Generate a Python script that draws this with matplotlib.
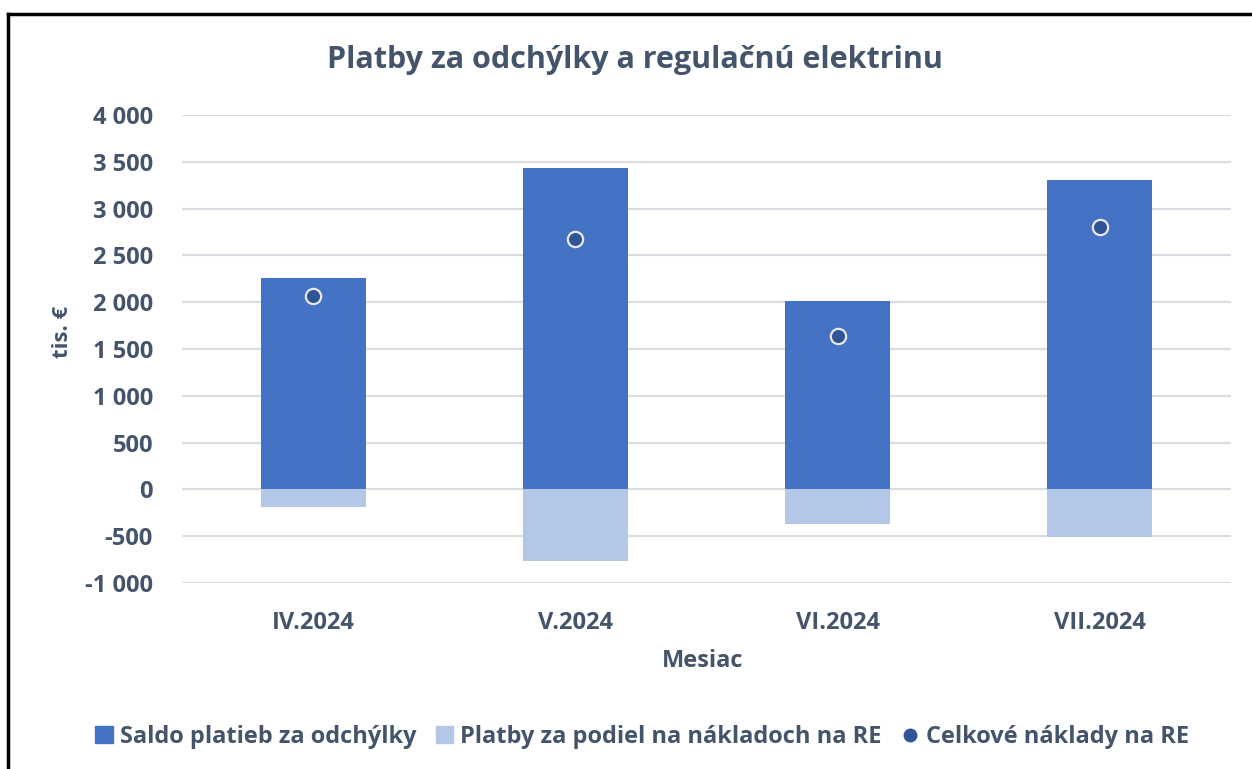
import matplotlib
matplotlib.use("Agg")
import matplotlib.pyplot as plt
from matplotlib.lines import Line2D
from matplotlib.patches import Patch
from matplotlib.ticker import FuncFormatter

months = ["IV.2024", "V.2024", "VI.2024", "VII.2024"]
saldo = [2260, 3430, 2010, 3310]
podiel = [-190, -760, -370, -510]
celkove = [2070, 2670, 1640, 2800]
series_names = ["Saldo platieb za odchýlky", "Platby za podiel na nákladoch na RE", "Celkové náklady na RE"]

TXT = "#44546A"
C_DARK = "#4472C4"
C_LIGHT = "#B4C7E7"
C_DOT = "#2F5597"
plt.rcParams['font.family'] = ['Open Sans', 'DejaVu Sans']
plt.rcParams['font.weight'] = 'bold'

fig = plt.figure(figsize=(12.52, 7.69), dpi=100)
ax = fig.add_axes([182/1252, 1-583/769, (1231-182)/1252, (583-115)/769])

x = list(range(len(months)))
ax.bar(x, saldo, width=0.40, color=C_DARK, zorder=2)
ax.bar(x, podiel, width=0.40, color=C_LIGHT, zorder=2)
ax.plot(x, celkove, linestyle='none', marker='o', markersize=11, markerfacecolor=C_DOT,
        markeredgecolor="#E8E8E8", markeredgewidth=1.6, zorder=3)

ax.set_xlim(-0.5, 3.5)
ax.set_ylim(-1000, 4000)
ax.set_yticks(range(-1000, 4001, 500))
ax.yaxis.set_major_formatter(FuncFormatter(lambda v, p: f"{int(v):,}".replace(",", " ")))
ax.set_xticks(x)
ax.set_xticklabels(months)
ax.grid(axis='y', color="#D9DCE3", linewidth=1.6, zorder=0)
for s in ax.spines.values():
    s.set_visible(False)
ax.tick_params(axis='y', length=0, labelsize=17, labelcolor=TXT, pad=21)
ax.tick_params(axis='x', length=0, labelsize=17, labelcolor=TXT, pad=20)
for lbl in ax.get_xticklabels() + ax.get_yticklabels():
    lbl.set_fontweight('bold')

fig.text(635/1252, 1-60/769, "Platby za odchýlky a regulačnú elektrinu", ha='center', va='center',
         fontsize=22, color=TXT, fontweight='bold')
fig.text(62/1252, 1-332/769, "tis. €", rotation=90, ha='center', va='center', fontsize=16,
         color=TXT, fontweight='bold')
fig.text(703/1252, 1-661/769, "Mesiac", ha='center', va='center', fontsize=17, color=TXT,
         fontweight='bold')

handles = [
    Patch(facecolor=C_DARK, edgecolor=C_DARK),
    Patch(facecolor=C_LIGHT, edgecolor=C_LIGHT),
    Line2D([], [], linestyle='none', marker='o', markersize=9, markerfacecolor=C_DOT,
           markeredgecolor=C_DOT),
]
leg = fig.legend(handles, series_names, loc='center', bbox_to_anchor=(642/1252, 1-737/769), ncol=3,
                 frameon=False, fontsize=17, handlelength=0.75, handleheight=0.75, handletextpad=0.3,
                 columnspacing=0.8)
for t in leg.get_texts():
    t.set_color(TXT)
    t.set_fontweight('bold')

fig.add_artist(Line2D([8/1252, 8/1252], [0, 1-14/769], transform=fig.transFigure, color='black', linewidth=2.5))
fig.add_artist(Line2D([8/1252, 1], [1-14/769, 1-14/769], transform=fig.transFigure, color='black', linewidth=2.5))

fig.savefig("out.png", dpi=100)
